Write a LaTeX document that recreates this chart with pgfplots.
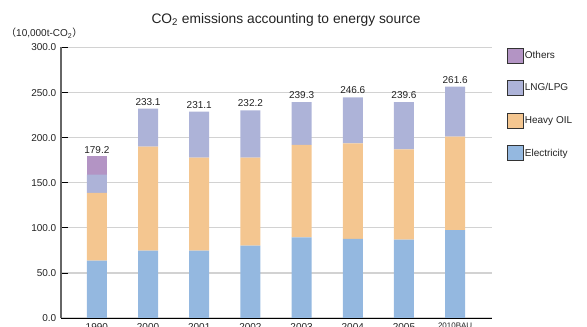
\documentclass[border=0pt]{standalone}
\usepackage{fontspec}
\setmainfont{Liberation Sans}
\newfontfamily\cjk{Noto Sans CJK JP}
\usepackage{pgfplots}
\usepackage{pgfplotstable}
\pgfplotsset{compat=1.18}
\definecolor{elec}{HTML}{94B8E0}
\definecolor{oil}{HTML}{F4C690}
\definecolor{lng}{HTML}{ADB3D8}
\definecolor{oth}{HTML}{B394C4}
\definecolor{gridc}{HTML}{D2D2D2}
\definecolor{txt}{HTML}{222222}
\pgfplotstableread{
x elec oil lng oth top lab
0 63.7 75.2 20.0 20.3 179.2 179.2
1 74.8 115.2 42.2 0 232.2 233.1
2 74.8 103.0 51.1 0 228.9 231.1
3 80.4 97.4 52.6 0 230.4 232.2
4 89.3 102.6 47.4 0 239.3 239.3
5 87.8 105.9 51.1 0 244.8 246.6
6 87.0 100.0 52.3 0 239.3 239.6
7 97.4 103.7 55.6 0 256.7 261.6
}\data
\pgfplotsset{common/.style={
  at={(61bp,9bp)}, anchor=south west,
  scale only axis, width=431bp, height=270.5bp,
  xmin=-0.70, xmax=7.72, ymin=0, ymax=300}}
\begin{document}
\begin{tikzpicture}
\useasboundingbox (0,0) rectangle (587bp,327bp);
\node[font=\fontsize{13.8bp}{15bp}\selectfont, text=txt] at (286bp,307bp) {CO\textsubscript{2} emissions accounting to energy source};
\node[font=\fontsize{10bp}{11bp}\selectfont, text=txt, anchor=west, inner sep=0] at (6bp,294bp) {{\cjk （}10,000t-CO\textsubscript{2}{\cjk ）}};
\begin{axis}[
  common,
  ybar stacked, bar width=20bp,
  xtick={0,...,7},
  xticklabels={1990,2000,2001,2002,2003,2004,2005,{\fontsize{8bp}{9bp}\selectfont 2010BAU}},
  xtick style={draw=none},
  xticklabel style={anchor=north, inner sep=0pt, yshift=-5bp, font=\fontsize{10bp}{11bp}\selectfont, text=txt},
  ytick={0,50,...,300},
  yticklabel style={/pgf/number format/.cd, fixed, fixed zerofill, precision=1, assume math mode=true, /tikz/.cd, inner sep=0pt, xshift=-4.5bp, font=\fontsize{10bp}{11bp}\selectfont, text=txt},
  tick align=inside, major tick length=7bp,
  ytick style={black, line width=0.8bp},
  ymajorgrids, grid style={gridc, line width=1.3bp},
  axis x line*=bottom, axis y line*=left,
  x axis line style={black, line width=1bp, -},
  y axis line style={gray!80!black, line width=1.3bp, -},
  reverse legend,
  legend style={at={(1.035,1.0)}, anchor=north west, draw=none, fill=none, inner sep=0pt,
    font=\fontsize{10bp}{11bp}\selectfont, text=txt, row sep=17bp,
    nodes={inner sep=1bp, anchor=west}},
  legend cell align=left,
  legend image code/.code={\draw[#1, draw=gray!40!black, line width=0.6bp] (0bp,-7.5bp) rectangle (16bp,7.5bp);},
]
\addplot[fill=elec, draw=none] table[x=x, y=elec] {\data};
\addplot[fill=oil, draw=none] table[x=x, y=oil] {\data};
\addplot[fill=lng, draw=none] table[x=x, y=lng] {\data};
\addplot[fill=oth, draw=none] table[x=x, y=oth] {\data};
\legend{Electricity, Heavy OIL, LNG/LPG, Others}
\end{axis}
\begin{axis}[common, hide axis]
\addplot[draw=none, mark=none, nodes near coords, point meta=explicit symbolic,
  every node near coord/.append style={anchor=south, inner sep=0pt, yshift=3bp, font=\fontsize{10bp}{11bp}\selectfont, text=txt}]
  table[x=x, y=top, meta=lab] {\data};
\end{axis}
\end{tikzpicture}
\end{document}
